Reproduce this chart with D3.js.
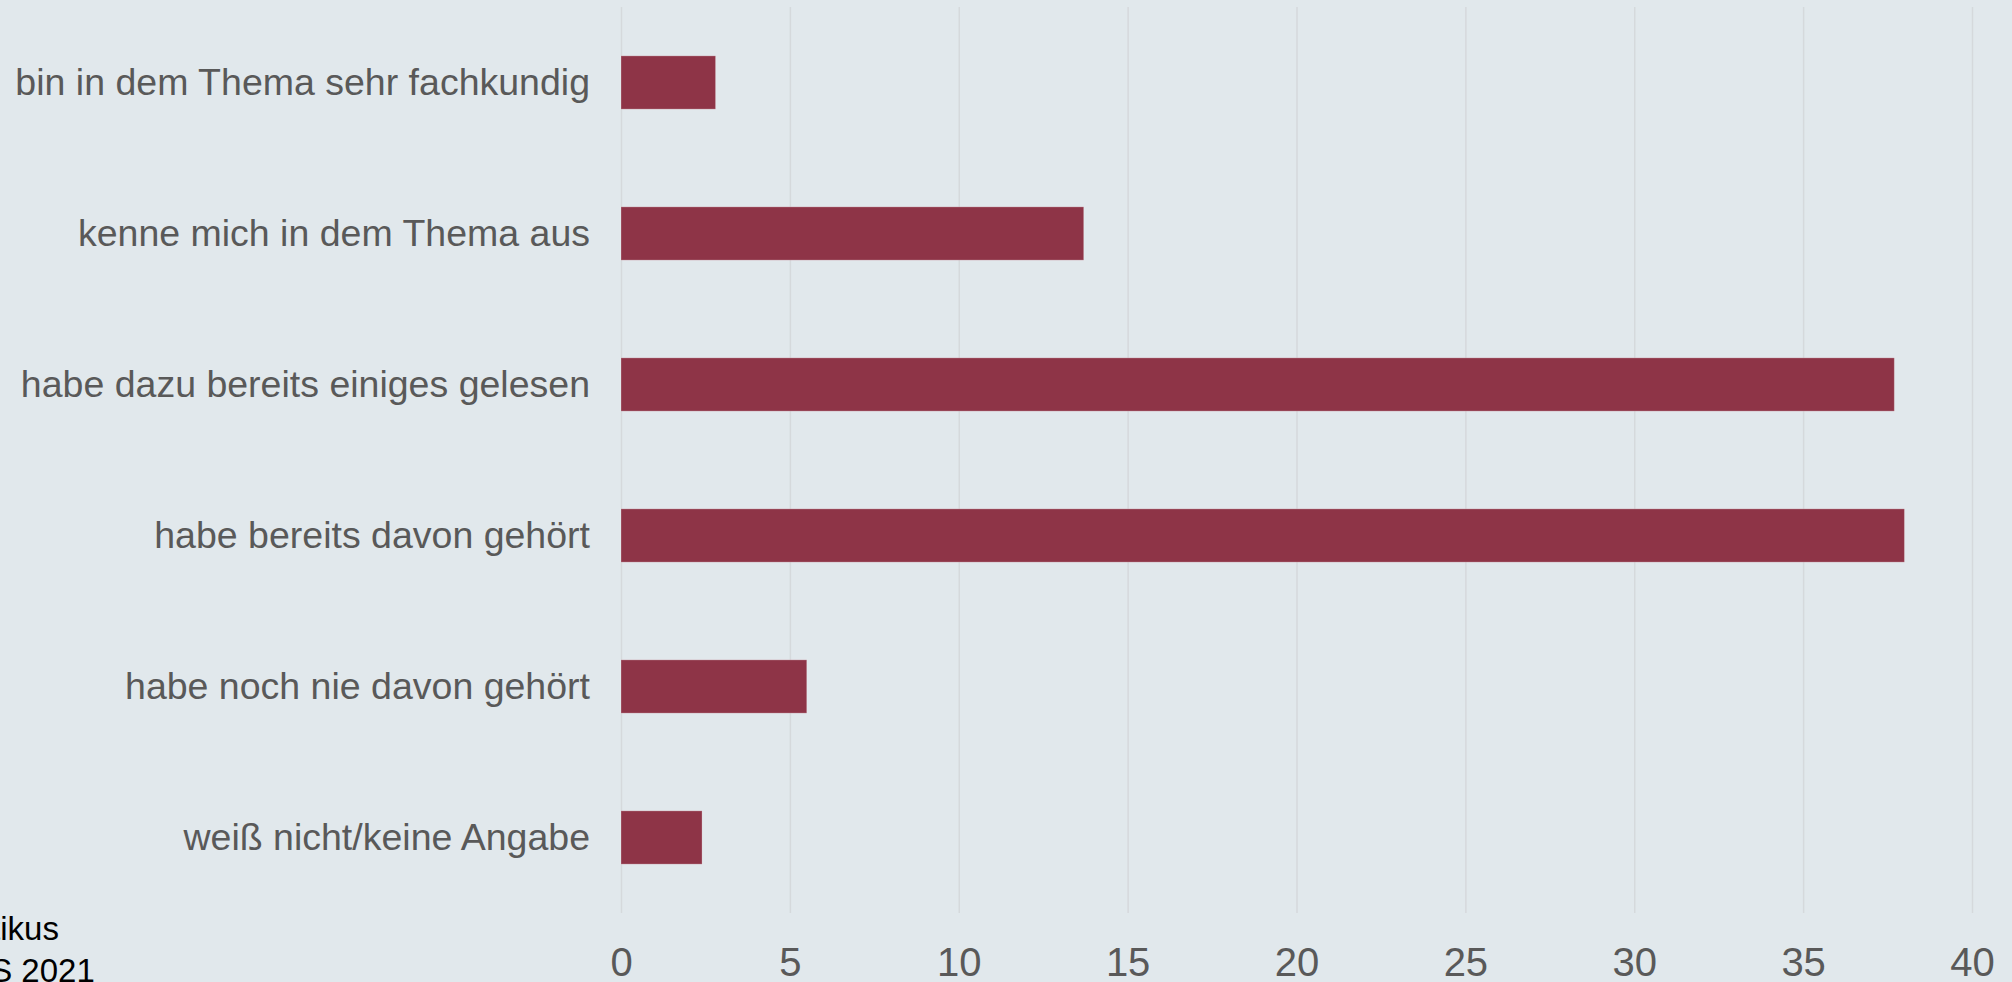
<!DOCTYPE html>
<html>
<head>
<meta charset="utf-8">
<script src="https://cdn.jsdelivr.net/npm/d3@7"></script>
<style>
  html, body { margin: 0; padding: 0; background: #e1e8ec; overflow: hidden; }
  svg { display: block; }
</style>
</head>
<body>
<div id="chart"></div>
<script>
"use strict";

const categories = [
  "bin in dem Thema sehr fachkundig",
  "kenne mich in dem Thema aus",
  "habe dazu bereits einiges gelesen",
  "habe bereits davon gehört",
  "habe noch nie davon gehört",
  "weiß nicht/keine Angabe"
];
const values = [2.8, 13.7, 37.7, 38.0, 5.5, 2.4];
const xTicks = [0, 5, 10, 15, 20, 25, 30, 35, 40];
const captionLines = ["Politikus", "WS 2021"];

const width = 2012, height = 982;
const plotLeft = 621, plotRight = 1972, plotTop = 7, plotBottom = 913;

let svg = d3.select("#chart").append("svg")
  .attr("width", width)
  .attr("height", height);

svg.append("rect")
  .attr("width", width)
  .attr("height", height)
  .attr("fill", "#e1e8ec");

let x = d3.scaleLinear().domain([0, 40]).range([plotLeft, plotRight]);
let y = d3.scaleBand()
  .domain(categories)
  .range([plotTop, plotBottom])
  .paddingInner(0.647)
  .paddingOuter(0.3235);

// grid + tick labels
let xAxis = svg.append("g")
  .attr("transform", "translate(0," + plotBottom + ")")
  .call(d3.axisBottom(x).tickValues(xTicks).tickSize(-(plotBottom - plotTop)).tickPadding(35));
xAxis.select(".domain").remove();
xAxis.selectAll(".tick line")
  .attr("stroke", "#d5d9dc")
  .attr("stroke-width", 1.5);
xAxis.selectAll(".tick text")
  .attr("fill", "#595959")
  .attr("font-family", "Liberation Sans, Arial, sans-serif")
  .attr("font-size", "40px");

// bars
svg.append("g").selectAll("rect")
  .data(values)
  .join("rect")
  .attr("x", x(0))
  .attr("y", (d, i) => y(categories[i]))
  .attr("width", d => x(d) - x(0))
  .attr("height", y.bandwidth())
  .attr("fill", "#8e3447")
  .attr("stroke", "rgba(255,255,255,0.25)")
  .attr("stroke-width", 1);

// category labels
let yAxis = svg.append("g")
  .attr("transform", "translate(" + plotLeft + ",0)")
  .call(d3.axisLeft(y).tickSize(0).tickPadding(31));
yAxis.select(".domain").remove();
yAxis.selectAll(".tick text")
  .attr("fill", "#595959")
  .attr("font-family", "Liberation Sans, Arial, sans-serif")
  .attr("font-size", "37.5px");

// caption, cut off at the left edge
svg.append("text")
  .attr("x", -64)
  .attr("y", 940)
  .attr("font-family", "Liberation Sans, Arial, sans-serif")
  .attr("font-size", "33px")
  .attr("fill", "#000")
  .text(captionLines[0]);
svg.append("text")
  .attr("x", -41)
  .attr("y", 982)
  .attr("font-family", "Liberation Sans, Arial, sans-serif")
  .attr("font-size", "33px")
  .attr("fill", "#000")
  .text(captionLines[1]);
</script>
</body>
</html>
